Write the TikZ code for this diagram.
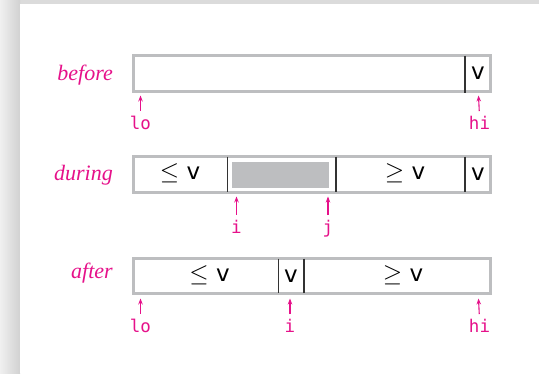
\documentclass[tikz,border=0pt]{standalone}
\usepackage{fontspec}
\setsansfont{DejaVu Sans}
\setmonofont{DejaVu Sans Mono}
\newfontfamily\tagfont{Liberation Serif}
\usetikzlibrary{arrows.meta,positioning}
\definecolor{qmag}{HTML}{E6118A}
\definecolor{qgray}{HTML}{BDBEC0}
\definecolor{qink}{HTML}{333333}

\begin{document}
\begin{tikzpicture}[x=1pt,y=-1pt,>={Stealth[length=6pt,width=4.5pt]},
  slot/.style={draw=qgray,line width=3pt},
  bar/.style={draw=qink,line width=1.5pt},
  tag/.style={qmag,anchor=base east,inner sep=0pt,font=\fontsize{22}{22}\selectfont\tagfont\itshape},
  idx/.style={qmag,anchor=base,inner sep=0pt,font=\fontsize{17.5}{17.5}\selectfont\ttfamily},
  val/.style={inner sep=0pt,font=\fontsize{23}{23}\selectfont\sffamily},
  ptr/.style={qmag,->,line width=1.1pt,shorten <=5pt}]

\useasboundingbox (0,0) rectangle (539,373);
% page edge
\fill[black!14] (0,0) rectangle (539,373);
\shade[left color=black!6,right color=black!18] (0,0) rectangle (20,373);
\fill[white] (20,3.5) rectangle (539,373);

% ================= before =================
\begin{scope}
  \node[tag] (before) at (113,80) {before};
  \draw[slot] (133,55.5) rectangle (490,91);
  \draw[bar] (465,55.5) -- (465,93);
  \node[val] (piv1) at (478,73) {v};
  \coordinate (lo1p) at (140.5,95.5);
  \coordinate (hi1p) at (478.5,95.5);
  \node[idx] (lo1) at (140.5,129.5) {lo};
  \node[idx] (hi1) at (479.5,129.5) {hi};
  \draw[ptr] (lo1.north) -- (lo1p);
  \draw[ptr] (hi1.north) -- (hi1p);
\end{scope}

% ================= during =================
\begin{scope}
  \node[tag] (during) at (113,180) {during};
  \fill[qgray] (232,162) rectangle (329,188);
  \draw[slot] (133,156.5) rectangle (490,192);
  \draw[bar] (227.5,156.5) -- (227.5,192);
  \draw[bar] (336,156.5) -- (336,192);
  \draw[bar] (465,156.5) -- (465,192);
  \node[val] (le2) at (180,173) {$\le$\ v};
  \node[val] (ge2) at (405,173) {$\ge$\ v};
  \node[val] (piv2) at (478,174) {v};
  \coordinate (i2p) at (236.5,196.5);
  \coordinate (j2p) at (328,196.5);
  \node[idx] (i2) at (236.5,233) {i};
  \node[idx] (j2) at (328,233) {j};
  \draw[ptr] (i2.north) -- (i2p);
  \draw[ptr] (j2.north) -- (j2p);
\end{scope}

% ================= after =================
\begin{scope}
  \node[tag] (after) at (113,278) {after};
  \draw[slot] (133,258.5) rectangle (490,293);
  \draw[bar] (278.5,258.5) -- (278.5,293);
  \draw[bar] (304,258.5) -- (304,293);
  \node[val] (le3) at (209.5,275) {$\le$\ v};
  \node[val] (piv3) at (291,276) {v};
  \node[val] (ge3) at (403,275) {$\ge$\ v};
  \coordinate (lo3p) at (140.5,298.5);
  \coordinate (i3p) at (290,298.5);
  \coordinate (hi3p) at (478.5,298.5);
  \node[idx] (lo3) at (140.5,332.5) {lo};
  \node[idx] (i3) at (290,332.5) {i};
  \node[idx] (hi3) at (479.5,332.5) {hi};
  \draw[ptr] (lo3.north) -- (lo3p);
  \draw[ptr] (i3.north) -- (i3p);
  \draw[ptr] (hi3.north) -- (hi3p);
\end{scope}
\end{tikzpicture}
\end{document}
